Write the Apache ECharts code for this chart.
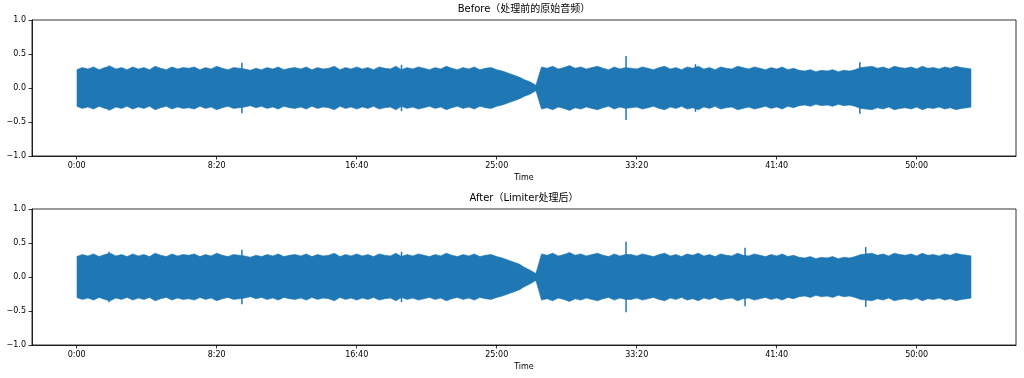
<!DOCTYPE html>
<html>
<head>
<meta charset="utf-8">
<script src="https://cdn.jsdelivr.net/npm/echarts@6/dist/echarts.min.js"></script>
<style>
  html, body { margin: 0; padding: 0; background: #fff; }
  #chart { width: 1024px; height: 378px; }
</style>
</head>
<body>
<div id="chart"></div>
<script>
  // waveform envelope (symmetric, |amplitude|), one value every STEP seconds
  const STEP = 20
  const DURATION = 3195
  const titles = ['Before（处理前的原始音频）', 'After（Limiter处理后）']
  const tickSeconds = [0, 500, 1000, 1500, 2000, 2500, 3000]

  const beforeEnv = [
    0.27, 0.30, 0.28, 0.31, 0.27, 0.30, 0.32, 0.28, 0.30, 0.27,
    0.31, 0.28, 0.30, 0.27, 0.32, 0.29, 0.27, 0.31, 0.28, 0.30,
    0.29, 0.31, 0.27, 0.30, 0.28, 0.32, 0.29, 0.27, 0.30, 0.29,
    0.28, 0.26, 0.29, 0.27, 0.30, 0.28, 0.31, 0.27, 0.29, 0.30,
    0.28, 0.31, 0.27, 0.30, 0.28, 0.29, 0.32, 0.27, 0.30, 0.28,
    0.31, 0.28, 0.30, 0.27, 0.31, 0.29, 0.28, 0.32, 0.27, 0.30,
    0.28, 0.31, 0.29, 0.27, 0.30, 0.28, 0.32, 0.29, 0.27, 0.30,
    0.28, 0.31, 0.27, 0.29, 0.30, 0.27, 0.25, 0.22, 0.19, 0.16,
    0.12, 0.09, 0.04, 0.31, 0.29, 0.32, 0.28, 0.30, 0.33, 0.29,
    0.31, 0.28, 0.30, 0.32, 0.29, 0.27, 0.31, 0.28, 0.30, 0.29,
    0.28, 0.31, 0.29, 0.27, 0.30, 0.32, 0.28, 0.30, 0.27, 0.31,
    0.29, 0.32, 0.28, 0.30, 0.27, 0.31, 0.29, 0.28, 0.32, 0.30,
    0.28, 0.31, 0.29, 0.27, 0.30, 0.28, 0.31, 0.27, 0.29, 0.26,
    0.25, 0.27, 0.24, 0.26, 0.25, 0.27, 0.24, 0.26, 0.25, 0.27,
    0.30, 0.31, 0.32, 0.29, 0.31, 0.28, 0.32, 0.30, 0.29, 0.31,
    0.28, 0.32, 0.29, 0.30, 0.28, 0.31, 0.29, 0.32, 0.30, 0.29,
    0.28
  ]
  const afterEnv = [
    0.30, 0.33, 0.31, 0.34, 0.30, 0.33, 0.35, 0.31, 0.33, 0.30,
    0.34, 0.31, 0.33, 0.30, 0.35, 0.32, 0.30, 0.34, 0.31, 0.33,
    0.32, 0.34, 0.30, 0.33, 0.31, 0.35, 0.32, 0.30, 0.33, 0.32,
    0.31, 0.29, 0.32, 0.30, 0.33, 0.31, 0.34, 0.30, 0.32, 0.33,
    0.31, 0.34, 0.30, 0.33, 0.31, 0.32, 0.35, 0.30, 0.33, 0.31,
    0.34, 0.31, 0.33, 0.30, 0.34, 0.32, 0.31, 0.35, 0.30, 0.33,
    0.31, 0.34, 0.32, 0.30, 0.33, 0.31, 0.35, 0.32, 0.30, 0.33,
    0.31, 0.34, 0.30, 0.32, 0.33, 0.30, 0.28, 0.25, 0.22, 0.19,
    0.14, 0.10, 0.05, 0.34, 0.32, 0.35, 0.31, 0.33, 0.36, 0.32,
    0.34, 0.31, 0.33, 0.35, 0.32, 0.30, 0.34, 0.31, 0.33, 0.33,
    0.31, 0.34, 0.32, 0.30, 0.33, 0.35, 0.31, 0.33, 0.30, 0.34,
    0.32, 0.35, 0.31, 0.33, 0.30, 0.34, 0.32, 0.31, 0.35, 0.32,
    0.31, 0.34, 0.32, 0.30, 0.33, 0.31, 0.34, 0.30, 0.32, 0.29,
    0.28, 0.30, 0.27, 0.29, 0.28, 0.30, 0.27, 0.29, 0.28, 0.30,
    0.33, 0.34, 0.35, 0.32, 0.34, 0.31, 0.35, 0.33, 0.32, 0.34,
    0.31, 0.35, 0.32, 0.33, 0.31, 0.34, 0.32, 0.35, 0.33, 0.32,
    0.31
  ]

  // isolated narrow peaks (seconds, |amplitude|)
  const beforePeakTimes = [115, 590, 1160, 1962, 2210, 2797]
  const beforePeaks = [0.33, 0.37, 0.34, 0.47, 0.35, 0.38]
  const afterPeakTimes = [115, 590, 1160, 1962, 2387, 2818]
  const afterPeaks = [0.37, 0.40, 0.37, 0.52, 0.43, 0.44]

  const color = '#1f77b4'
  const font = "'DejaVu Sans', 'Noto Sans CJK SC', sans-serif"
  const gridTops = [20, 209]
  const gridH = 136

  const timeOf = (i, len) => (i === len - 1 ? DURATION : i * STEP)
  const fmtTime = (v) => {
    const m = Math.floor(v / 60)
    const s = Math.round(v - m * 60)
    return m + ':' + (s < 10 ? '0' + s : s)
  }
  const fmtY = (v) => (v < 0 ? '\u2212' + Math.abs(v).toFixed(1) : v.toFixed(1))

  const envs = [beforeEnv, afterEnv]
  const peakTimes = [beforePeakTimes, afterPeakTimes]
  const peaks = [beforePeaks, afterPeaks]
  const grid = [], xAxis = [], yAxis = [], series = [], title = []

  envs.forEach((env, k) => {
    grid.push({
      left: 32, right: 8, top: gridTops[k], height: gridH,
      show: true, borderColor: '#000', borderWidth: 0.8, containLabel: false,
    })
    title.push({
      text: titles[k],
      left: 524, top: gridTops[k] - 16, padding: 0, textAlign: 'center',
      textStyle: { fontFamily: font, fontSize: 10, fontWeight: 'normal', color: '#000' },
    })
    xAxis.push({
      type: 'value', gridIndex: k,
      min: -0.05 * DURATION, max: 1.05 * DURATION,
      name: 'Time', nameLocation: 'middle', nameGap: 18,
      nameTextStyle: { fontFamily: font, fontSize: 8, color: '#000' },
      splitLine: { show: false },
      axisLine: { onZero: false, lineStyle: { color: '#000', width: 0.8 } },
      axisTick: { customValues: tickSeconds, length: 3.5, lineStyle: { color: '#000', width: 0.8 } },
      axisLabel: {
        customValues: tickSeconds, formatter: fmtTime, margin: 6,
        fontFamily: font, fontSize: 8, color: '#000',
      },
    })
    yAxis.push({
      type: 'value', gridIndex: k, min: -1, max: 1, interval: 0.5,
      splitLine: { show: false },
      axisLine: { show: true, onZero: false, lineStyle: { color: '#000', width: 0.8 } },
      axisTick: { show: true, length: 3.5, lineStyle: { color: '#000', width: 0.8 } },
      axisLabel: { formatter: fmtY, margin: 6, fontFamily: font, fontSize: 8, color: '#000' },
    })
    // upper and lower halves of the envelope, each filled to zero
    ;[1, -1].forEach((sign) => {
      series.push({
        type: 'line', xAxisIndex: k, yAxisIndex: k,
        showSymbol: false, silent: true,
        lineStyle: { color, width: 0.6 },
        areaStyle: { color, opacity: 1, origin: 'auto' },
        data: env.map((v, i) => [timeOf(i, env.length), sign * v]),
      })
      series.push({
        type: 'bar', xAxisIndex: k, yAxisIndex: k, silent: true,
        barWidth: 1.5, barGap: '-100%',
        itemStyle: { color },
        data: peaks[k].map((p, i) => [peakTimes[k][i], sign * p]),
      })
    })
  })

  const chart = echarts.init(document.getElementById('chart'), null, { renderer: 'canvas' })
  chart.setOption({ animation: false, title, grid, xAxis, yAxis, series })
</script>
</body>
</html>
